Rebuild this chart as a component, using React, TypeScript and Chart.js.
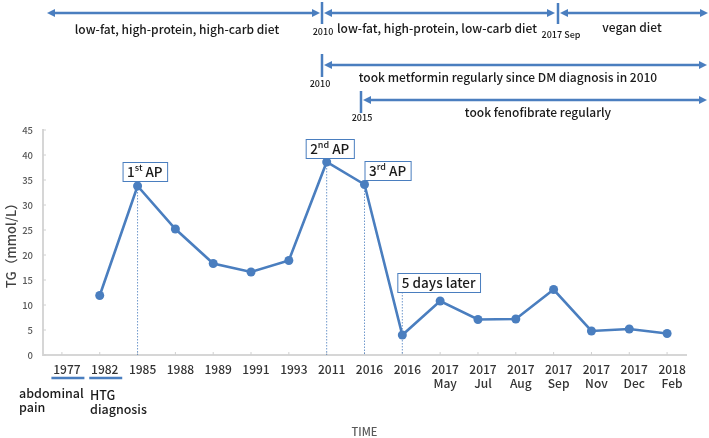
import React, { useEffect, useRef } from 'react';
import { Chart, registerables } from 'chart.js';

Chart.register(...registerables);

const categories: (string | string[])[] = [
  '1977', '1982', '1985', '1988', '1989', '1991', '1993', '2011', '2016', '2016',
  ['2017', 'May'], ['2017', 'Jul'], ['2017', 'Aug'], ['2017', 'Sep'],
  ['2017', 'Nov'], ['2017', 'Dec'], ['2018', 'Feb'],
];
const tgValues: (number | null)[] = [
  null, 11.9, 33.8, 25.2, 18.3, 16.6, 18.9, 38.6, 34.1, 4.0,
  10.8, 7.1, 7.2, 13.1, 4.8, 5.2, 4.3,
];
const yMin = 0;
const yMax = 45;
const yStep = 5;

// event labels on points
const eventIndexes = [2, 7, 8, 9];
const eventMain = ['1', '2', '3', '5 days later'];
const eventSup = ['st', 'nd', 'rd', ''];
const eventRest = [' AP', ' AP', ' AP', ''];

const FONT = '"Noto Sans CJK SC", "Noto Sans", sans-serif';
const BLUE = '#4a7ebf';
const TEXT = '#1a1a1a';

// label box placement relative to its point (style, not data)
const boxDX = [-15, -21, 0, -5];
const boxDY = [-24, -23, -23.5, -62];

function head(ctx: CanvasRenderingContext2D, x: number, y: number, dir: number) {
  ctx.beginPath();
  ctx.moveTo(x, y);
  ctx.lineTo(x - dir * 8, y - 4);
  ctx.lineTo(x - dir * 8, y + 4);
  ctx.closePath();
  ctx.fill();
}
function hArrow(ctx: CanvasRenderingContext2D, x1: number, x2: number, y: number) {
  ctx.beginPath();
  ctx.moveTo(x1 + 4, y);
  ctx.lineTo(x2 - 4, y);
  ctx.stroke();
  head(ctx, x1, y, -1);
  head(ctx, x2, y, 1);
}
function vTick(ctx: CanvasRenderingContext2D, x: number, y1: number, y2: number) {
  ctx.beginPath();
  ctx.moveTo(x, y1);
  ctx.lineTo(x, y2);
  ctx.stroke();
}
function text(ctx: CanvasRenderingContext2D, s: string, x: number, y: number, size: number, align: CanvasTextAlign = 'center', color = TEXT, weight = 500) {
  ctx.font = `${weight} ${size}px ${FONT}`;
  ctx.fillStyle = color;
  ctx.textAlign = align;
  ctx.textBaseline = 'middle';
  ctx.fillText(s, x, y);
}

const annot = {
  id: 'annot',
  beforeDatasetsDraw(chart: any) {
    const ctx = chart.ctx as CanvasRenderingContext2D;
    const xs = chart.scales.x;
    const ys = chart.scales.y;
    const base = ys.getPixelForValue(0);
    ctx.save();
    // small inward tick marks
    ctx.strokeStyle = '#d0d0d0';
    ctx.lineWidth = 1;
    for (let i = 0; i < categories.length; i++) {
      const px = xs.getPixelForValue(i);
      vTick(ctx, px, base - 3, base);
    }
    for (let v = yMin; v <= yMax; v += yStep) {
      const py = ys.getPixelForValue(v);
      ctx.beginPath();
      ctx.moveTo(xs.left, py);
      ctx.lineTo(xs.left + 3, py);
      ctx.stroke();
    }
    // dotted drop lines
    ctx.strokeStyle = BLUE;
    ctx.lineWidth = 0.8;
    ctx.setLineDash([1.5, 1.5]);
    eventIndexes.forEach((idx, k) => {
      const px = xs.getPixelForValue(idx);
      const py = ys.getPixelForValue(tgValues[idx] as number);
      const top = k === 3 ? py + boxDY[k] + 19 : py;
      vTick(ctx, px, top, base);
    });
    ctx.restore();
  },
  afterDraw(chart: any) {
    const ctx = chart.ctx as CanvasRenderingContext2D;
    const xs = chart.scales.x;
    const ys = chart.scales.y;
    ctx.save();
    // event label boxes
    eventIndexes.forEach((idx, k) => {
      const px = xs.getPixelForValue(idx);
      const py = ys.getPixelForValue(tgValues[idx] as number);
      ctx.font = `500 13.5px ${FONT}`;
      const w1 = ctx.measureText(eventMain[k]).width;
      const w3 = ctx.measureText(eventRest[k]).width;
      ctx.font = `500 9px ${FONT}`;
      const w2 = ctx.measureText(eventSup[k]).width;
      const w = w1 + w2 + w3 + 9;
      const left = px + boxDX[k];
      const top = py + boxDY[k];
      const h = 19;
      ctx.fillStyle = '#ffffff';
      ctx.fillRect(left, top, w, h);
      ctx.strokeStyle = BLUE;
      ctx.lineWidth = 1;
      ctx.setLineDash([]);
      ctx.strokeRect(left + 0.5, top + 0.5, w, h);
      const cy = top + h / 2 + 0.5;
      let x = left + 4.5;
      text(ctx, eventMain[k], x, cy, 13.5, 'left');
      x += w1;
      if (eventSup[k]) text(ctx, eventSup[k], x, cy - 4, 9, 'left');
      x += w2;
      if (eventRest[k]) text(ctx, eventRest[k], x, cy, 13.5, 'left');
    });

    // timelines at the top
    ctx.strokeStyle = BLUE;
    ctx.fillStyle = BLUE;
    ctx.lineWidth = 2.5;
    hArrow(ctx, 47, 320, 13);
    hArrow(ctx, 324, 555, 13);
    hArrow(ctx, 560, 708, 13);
    vTick(ctx, 322, 2, 24);
    vTick(ctx, 558, 3, 24);
    hArrow(ctx, 324, 707, 65);
    vTick(ctx, 322, 54, 77);
    hArrow(ctx, 363, 707, 100);
    vTick(ctx, 361, 91, 113);

    text(ctx, 'low-fat, high-protein, high-carb diet', 177, 29, 12);
    text(ctx, '2010', 323, 32, 9);
    text(ctx, 'low-fat, high-protein, low-carb diet', 437, 28, 12);
    text(ctx, '2017 Sep', 561, 35, 9);
    text(ctx, 'vegan diet', 632, 27, 12);
    text(ctx, 'took metformin regularly since DM diagnosis in 2010', 508, 77, 12);
    text(ctx, '2010', 320, 84, 9);
    text(ctx, 'took fenofibrate regularly', 538, 112, 12);
    text(ctx, '2015', 362, 118, 9);

    // notes under the first two categories
    ctx.strokeStyle = BLUE;
    ctx.lineWidth = 2.5;
    [0, 1].forEach((i) => {
      const cx = xs.getPixelForValue(i) + 6;
      ctx.beginPath();
      ctx.moveTo(cx - 16.5, 378);
      ctx.lineTo(cx + 16.5, 378);
      ctx.stroke();
    });
    text(ctx, 'abdominal', 19, 393, 12.5, 'left');
    text(ctx, 'pain', 19, 407, 12.5, 'left');
    text(ctx, 'HTG', 90, 395, 12.5, 'left');
    text(ctx, 'diagnosis', 90, 409, 12.5, 'left');
    ctx.restore();
  },
};

export default function App() {
  const ref = useRef<HTMLCanvasElement | null>(null);
  useEffect(() => {
    if (!ref.current) return;
    const chart = new Chart(ref.current, {
      type: 'line',
      data: {
        labels: categories as any,
        datasets: [
          {
            data: tgValues,
            borderColor: BLUE,
            backgroundColor: BLUE,
            borderWidth: 2.6,
            pointRadius: 4.5,
            pointHoverRadius: 4.5,
            pointBorderWidth: 0,
            tension: 0,
            spanGaps: false,
          },
        ],
      },
      options: {
        responsive: false,
        animation: false,
        events: [],
        layout: { padding: { top: 130, right: 23, left: 0, bottom: 0 } },
        plugins: { legend: { display: false }, tooltip: { enabled: false } },
        scales: {
          x: {
            type: 'category',
            offset: true,
            grid: { display: false, drawTicks: false },
            border: { display: true, color: '#d6d6d6', width: 2 },
            ticks: {
              autoSkip: false,
              maxRotation: 0,
              minRotation: 0,
              padding: 7,
              labelOffset: 5,
              color: '#333333',
              font: { family: FONT, size: 12, weight: 500 },
            },
            title: {
              display: true,
              text: 'TIME',
              color: '#595959',
              font: { family: FONT, size: 11, weight: 500 },
              padding: { top: 0, bottom: 0 },
            },
            afterFit(scale: any) {
              scale.height = 83;
            },
          },
          y: {
            min: yMin,
            max: yMax,
            grid: { display: false, drawTicks: false },
            border: { display: true, color: '#d6d6d6', width: 2 },
            ticks: {
              stepSize: yStep,
              padding: 10,
              color: '#595959',
              font: { family: FONT, size: 9.5, weight: 500 },
            },
            title: {
              display: true,
              text: 'TG（mmol/L）',
              color: '#404040',
              font: { family: FONT, size: 13, weight: 500 },
              padding: { top: 3, bottom: 0 },
            },
            afterFit(scale: any) {
              scale.width = 43;
            },
          },
        },
      },
      plugins: [annot],
    } as any);
    return () => chart.destroy();
  }, []);
  return (
    <div style={{ position: 'absolute', left: 0, top: 0, width: 709, height: 438, background: '#fff' }}>
      <canvas ref={ref} width={709} height={438} style={{ display: 'block' }} />
    </div>
  );
}
